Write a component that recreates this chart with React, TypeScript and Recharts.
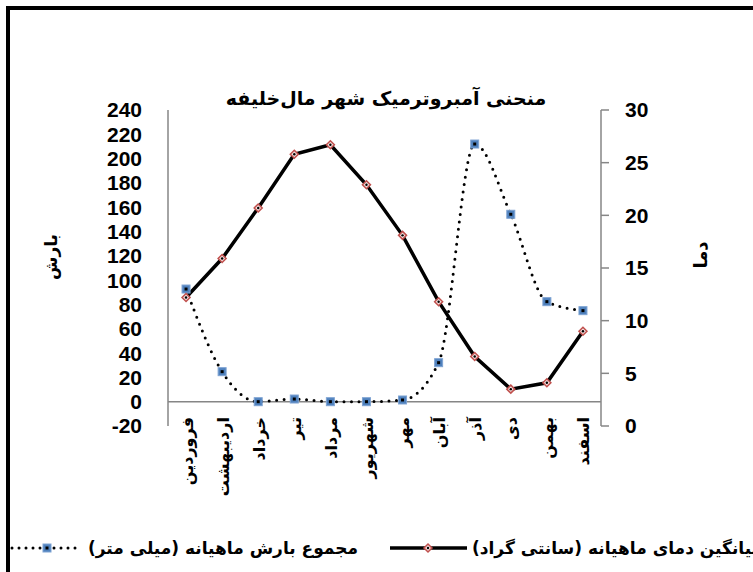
import React from 'react';
import { ComposedChart, Line, XAxis, YAxis, ReferenceLine, Legend } from 'recharts';

const months = ['فروردین', 'اردیبهشت', 'خرداد', 'تیر', 'مرداد', 'شهریور', 'مهر', 'آبان', 'آذر', 'دی', 'بهمن', 'اسفند'];
const rainfall = [92.7, 24.7, 0, 2.2, 0, 0, 1.4, 32.1, 212, 154.2, 82.3, 74.9];
const temperature = [12.2, 15.9, 20.7, 25.8, 26.7, 22.9, 18.1, 11.8, 6.6, 3.5, 4.1, 9.0];
const rainTicks = [-20, 0, 20, 40, 60, 80, 100, 120, 140, 160, 180, 200, 220, 240];
const tempTicks = [0, 5, 10, 15, 20, 25, 30];

const chartTitle = 'منحنی آمبروترمیک شهر مال‌خلیفه';
const rainAxisTitle = 'بارش';
const tempAxisTitle = 'دما';
const rainName = 'مجموع بارش ماهیانه (میلی متر)';
const tempName = 'میانگین دمای ماهیانه (سانتی گراد)';

const data = months.map((m, i) => ({ month: m, rain: rainfall[i], temp: temperature[i] }));

const AR_FONT = '"DejaVu Sans", sans-serif';
const NUM_FONT = '"Liberation Sans", Arial, sans-serif';
const GRAY = '#868686';
const BLUE = '#4F81BD';
const RED = '#C0504D';

const SquareDot = (props: any) => {
  const { cx, cy } = props;
  if (cx == null || cy == null) return null;
  return (
    <g>
      <rect x={cx - 4} y={cy - 4} width={8} height={8} fill={BLUE} stroke="#7EA3D3" strokeWidth={1} />
      <rect x={cx - 1.5} y={cy - 1.5} width={3} height={3} fill="#000" />
    </g>
  );
};

const DiamondDot = (props: any) => {
  const { cx, cy } = props;
  if (cx == null || cy == null) return null;
  const r = 4;
  return (
    <g>
      <polygon
        points={`${cx},${cy - r} ${cx + r},${cy} ${cx},${cy + r} ${cx - r},${cy}`}
        fill="#F2DCDB"
        stroke={RED}
        strokeWidth={1.5}
      />
      <circle cx={cx} cy={cy} r={1.2} fill="#000" />
    </g>
  );
};

const MonthTick = (props: any) => {
  const { x, y, payload } = props;
  return (
    <g transform={`translate(${x + 1},${y - 9})`}>
      <text
        transform="rotate(-90)"
        textAnchor="end"
        dominantBaseline="central"
        fontFamily={AR_FONT}
        fontWeight="bold"
        fontSize={16}
        fill="#000"
      >
        {payload.value}
      </text>
    </g>
  );
};

const LegendContent = (props: any) => {
  const items = props.payload || [];
  const rainItem = items.find((p: any) => p.dataKey === 'rain');
  const tempItem = items.find((p: any) => p.dataKey === 'temp');
  return (
    <svg width={753} height={40} style={{ display: 'block' }}>
      <line x1={12} y1={18} x2={82} y2={18} stroke="#000" strokeWidth={3} strokeDasharray="0 7" strokeLinecap="round" />
      <SquareDot cx={47} cy={18} />
      <text x={88} y={18} dominantBaseline="central" fontFamily={AR_FONT} fontWeight="bold" fontSize={17} fill="#000">
        {rainItem ? rainItem.value : rainName}
      </text>
      <line x1={390} y1={18} x2={467} y2={18} stroke="#000" strokeWidth={3.5} />
      <DiamondDot cx={428} cy={18} />
      <text x={472} y={18} dominantBaseline="central" fontFamily={AR_FONT} fontWeight="bold" fontSize={17} fill="#000">
        {tempItem ? tempItem.value : tempName}
      </text>
    </svg>
  );
};

export default function App() {
  return (
    <div style={{ position: 'absolute', left: 0, top: 0, width: 753, height: 572, overflow: 'hidden', background: '#fff' }}>
      <div
        style={{
          position: 'absolute',
          left: 6,
          top: 6,
          width: 900,
          height: 800,
          border: '4px solid #000',
          boxSizing: 'border-box',
        }}
      />
      <div
        style={{
          position: 'absolute',
          left: 0,
          top: 87,
          width: 772,
          textAlign: 'center',
          direction: 'rtl',
          fontFamily: AR_FONT,
          fontWeight: 'bold',
          fontSize: 19,
          color: '#000',
          whiteSpace: 'nowrap',
        }}
      >
        {chartTitle}
      </div>
      <div
        style={{
          position: 'absolute',
          left: 51,
          top: 257,
          transform: 'translate(-50%,-50%) rotate(-90deg)',
          fontFamily: AR_FONT,
          fontWeight: 'bold',
          fontSize: 17,
          whiteSpace: 'nowrap',
          direction: 'rtl',
        }}
      >
        {rainAxisTitle}
      </div>
      <div
        style={{
          position: 'absolute',
          left: 700,
          top: 255,
          transform: 'translate(-50%,-50%) rotate(-90deg)',
          fontFamily: AR_FONT,
          fontWeight: 'bold',
          fontSize: 18,
          whiteSpace: 'nowrap',
          direction: 'rtl',
        }}
      >
        {tempAxisTitle}
      </div>
      <div style={{ position: 'absolute', left: 0, top: 0 }}>
        <ComposedChart width={753} height={572} data={data} margin={{ top: 110, right: 0, bottom: 116, left: 0 }}>
          <XAxis
            dataKey="month"
            xAxisId="x"
            scale="band"
            axisLine={false}
            tickLine={false}
            tickSize={0}
            tickMargin={0}
            interval={0}
            height={30}
            tick={<MonthTick />}
          />
          <YAxis
            yAxisId="left"
            orientation="left"
            width={168}
            domain={[-20, 240]}
            ticks={rainTicks}
            interval={0}
            axisLine={{ stroke: GRAY, strokeWidth: 1.5 }}
            tickLine={false}
            tickSize={6}
            tickMargin={20}
            tick={{ fill: '#000', fontSize: 21, fontWeight: 'bold', fontFamily: NUM_FONT }}
          />
          <YAxis
            yAxisId="right"
            orientation="right"
            width={152}
            domain={[0, 30]}
            ticks={tempTicks}
            interval={0}
            axisLine={{ stroke: GRAY, strokeWidth: 1.5 }}
            tickLine={{ stroke: GRAY, strokeWidth: 1.5 }}
            tickSize={8}
            tickMargin={16}
            tick={{ fill: '#000', fontSize: 21, fontWeight: 'bold', fontFamily: NUM_FONT }}
          />
          <ReferenceLine y={0} yAxisId="left" xAxisId="x" stroke={GRAY} strokeWidth={1.5} />
          <Line
            xAxisId="x"
            yAxisId="left"
            type="monotone"
            dataKey="rain"
            name={rainName}
            stroke="#000"
            strokeWidth={3}
            strokeDasharray="0 7.5"
            strokeLinecap="round"
            dot={<SquareDot />}
            activeDot={false}
            isAnimationActive={false}
          />
          <Line
            xAxisId="x"
            yAxisId="right"
            type="linear"
            dataKey="temp"
            name={tempName}
            stroke="#000"
            strokeWidth={3.5}
            dot={<DiamondDot />}
            activeDot={false}
            isAnimationActive={false}
          />
          <Legend
            verticalAlign="middle"
            align="center"
            layout="horizontal"
            width={753}
            wrapperStyle={{ top: 530, left: 0, width: 753, height: 40 }}
            content={<LegendContent />}
          />
        </ComposedChart>
      </div>
    </div>
  );
}
